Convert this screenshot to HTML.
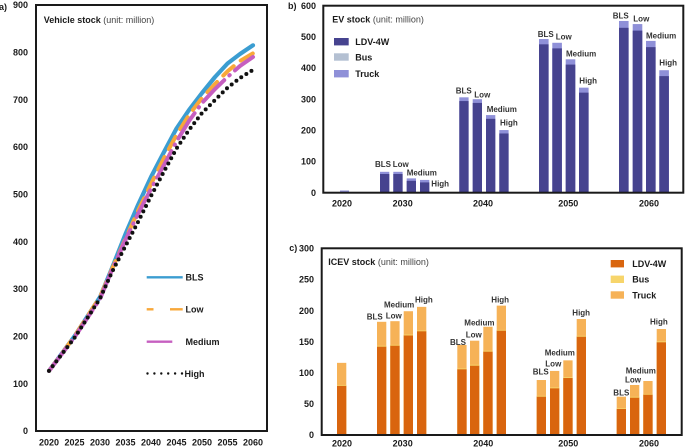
<!DOCTYPE html>
<html><head><meta charset="utf-8"><style>
html,body{margin:0;padding:0;background:#fff;}
svg{display:block;}
text{font-family:"Liberation Sans",Arial,sans-serif;}
.t{font-size:9px;font-weight:bold;fill:#1a1a1a;}
.bl{font-size:8px;font-weight:bold;fill:#333;}
.lg{font-size:9px;font-weight:bold;fill:#1a1a1a;}
</style></head><body>
<svg width="685" height="447" viewBox="0 0 685 447" xmlns="http://www.w3.org/2000/svg">
<rect width="685" height="447" fill="#fff"/>

<!-- ============ Panel a ============ -->
<text class="t" x="-1" y="10">a)</text>
<g class="t" text-anchor="end">
<text x="28" y="434.2">0</text>
<text x="28" y="386.9">100</text>
<text x="28" y="339.5">200</text>
<text x="28" y="292.2">300</text>
<text x="28" y="244.9">400</text>
<text x="28" y="197.6">500</text>
<text x="28" y="150.2">600</text>
<text x="28" y="102.9">700</text>
<text x="28" y="55.6">800</text>
<text x="28" y="8.2">900</text>
</g>
<g class="t" text-anchor="middle">
<text x="49" y="445.3">2020</text>
<text x="74.5" y="445.3">2025</text>
<text x="100" y="445.3">2030</text>
<text x="125.5" y="445.3">2035</text>
<text x="151" y="445.3">2040</text>
<text x="176.5" y="445.3">2045</text>
<text x="202" y="445.3">2050</text>
<text x="227.5" y="445.3">2055</text>
<text x="253" y="445.3">2060</text>
</g>
<text x="43.7" y="23" font-size="9" fill="#1a1a1a"><tspan font-weight="bold">Vehicle stock</tspan><tspan fill="#444"> (unit: million)</tspan></text>

<polyline fill="none" stroke="#3b9dd1" stroke-width="4.2" stroke-linejoin="round" stroke-linecap="round"
 points="49,370.9 74.5,336.3 100,297 112,268 125.5,234 138,205 151,177 164,152 176.5,128.5 189,110 202,93 215,77 227.5,63.5 240,54 253,45.3"/>
<polyline fill="none" stroke="#f8a83a" stroke-width="4" stroke-linecap="round" stroke-dasharray="14 9"
 points="49,370.9 74.5,336.3 100,297 112,269 125.5,239 138,211 151,184 164,158 176.5,135 189,115 202,98 215,84 227.5,71.3 240,61 253,53.3"/>
<polyline fill="none" stroke="#c65fc0" stroke-width="4" stroke-linecap="round" stroke-dasharray="30 7 0.5 7"
 points="49,370.9 74.5,337.3 100,299 112,270 125.5,240 138,214 151,189 164,165 176.5,141.5 189,121 202,103 215,89 227.5,77 240,66 253,57"/>
<polyline fill="none" stroke="#111" stroke-width="4" stroke-linecap="round" stroke-dasharray="0 6"
 points="49,370.9 74.5,337.8 100,298.5 112,272 125.5,246 138,222 151,196 164,171.5 176.5,148.5 189,130 202,113 215,100 227.5,87.7 240,78 253,69.9"/>

<!-- legend a -->
<line x1="146.7" y1="277.3" x2="182.7" y2="277.3" stroke="#3b9dd1" stroke-width="2.4"/>
<text class="lg" x="185.5" y="280.6">BLS</text>
<line x1="146.7" y1="309.3" x2="153.5" y2="309.3" stroke="#f8a83a" stroke-width="2.4"/>
<line x1="170" y1="309.3" x2="182.7" y2="309.3" stroke="#f8a83a" stroke-width="2.4"/>
<text class="lg" x="185.5" y="312.6">Low</text>
<line x1="146.7" y1="341.7" x2="172.3" y2="341.7" stroke="#c65fc0" stroke-width="2.4"/>
<text class="lg" x="185.5" y="345">Medium</text>
<g fill="#111">
<circle cx="147.5" cy="373.5" r="1.2"/><circle cx="154.4" cy="373.5" r="1.2"/><circle cx="161.3" cy="373.5" r="1.2"/>
<circle cx="168.2" cy="373.5" r="1.2"/><circle cx="175.1" cy="373.5" r="1.2"/><circle cx="182" cy="373.5" r="1.2"/>
</g>
<text class="lg" x="184.5" y="376.8">High</text>

<rect x="36" y="5" width="231" height="426" fill="none" stroke="#1a1a1a" stroke-width="2"/>

<!-- ============ Panel b ============ -->
<text class="t" x="288" y="9">b)</text>
<g class="t" text-anchor="end">
<text x="316" y="195.9">0</text>
<text x="316" y="164.7">100</text>
<text x="316" y="133.6">200</text>
<text x="316" y="102.4">300</text>
<text x="316" y="71.2">400</text>
<text x="316" y="40.1">500</text>
<text x="316" y="8.9">600</text>
</g>
<g class="t" text-anchor="middle">
<text x="342" y="206.6">2020</text>
<text x="402.7" y="206.6">2030</text>
<text x="483" y="206.6">2040</text>
<text x="568.3" y="206.6">2050</text>
<text x="649" y="206.6">2060</text>
</g>
<text x="332.3" y="22.6" font-size="9" fill="#1a1a1a"><tspan font-weight="bold">EV stock</tspan><tspan fill="#444"> (unit: million)</tspan></text>
<rect x="334" y="38" width="14.7" height="7.4" fill="#46438f"/>
<text class="lg" x="355.3" y="45">LDV-4W</text>
<rect x="334" y="53.3" width="14.7" height="7.4" fill="#b4c0d2"/>
<text class="lg" x="355.3" y="60.3">Bus</text>
<rect x="334" y="70" width="14.7" height="7.4" fill="#8f90d8"/>
<text class="lg" x="355.3" y="77">Truck</text>

<g transform="translate(0 192.7) scale(1 -0.3117)">
<rect x="340" y="0" width="9" height="7" fill="#8f90d8"/>
<g fill="#8f90d8">
<rect x="380" y="0" width="9.3" height="67"/><rect x="393.3" y="0" width="9.3" height="67"/><rect x="406.7" y="0" width="9.3" height="46"/><rect x="420" y="0" width="9.3" height="41"/>
<rect x="459.3" y="0" width="9.3" height="306"/><rect x="472.7" y="0" width="9.3" height="300"/><rect x="486" y="0" width="9.3" height="249"/><rect x="499.3" y="0" width="9.3" height="201"/>
<rect x="539" y="0" width="9.6" height="493"/><rect x="552.3" y="0" width="9.6" height="481"/><rect x="565.7" y="0" width="9.6" height="428"/><rect x="579" y="0" width="9.6" height="337"/>
<rect x="619" y="0" width="9.6" height="551"/><rect x="632.7" y="0" width="9.6" height="541"/><rect x="646" y="0" width="9.6" height="487"/><rect x="659.3" y="0" width="9.6" height="393"/>
</g>
<g fill="#46438f">
<rect x="380" y="0" width="9.3" height="60"/><rect x="393.3" y="0" width="9.3" height="60"/><rect x="406.7" y="0" width="9.3" height="38"/><rect x="420" y="0" width="9.3" height="33"/>
<rect x="459.3" y="0" width="9.3" height="294"/><rect x="472.7" y="0" width="9.3" height="288"/><rect x="486" y="0" width="9.3" height="237"/><rect x="499.3" y="0" width="9.3" height="190"/>
<rect x="539" y="0" width="9.6" height="476"/><rect x="552.3" y="0" width="9.6" height="463"/><rect x="565.7" y="0" width="9.6" height="411"/><rect x="579" y="0" width="9.6" height="321"/>
<rect x="619" y="0" width="9.6" height="529"/><rect x="632.7" y="0" width="9.6" height="520"/><rect x="646" y="0" width="9.6" height="467"/><rect x="659.3" y="0" width="9.6" height="374"/>
</g>
</g>
<g class="bl">
<text x="375" y="167">BLS</text><text x="392.7" y="167">Low</text><text x="406.7" y="175.3">Medium</text><text x="431.3" y="186.3">High</text>
<text x="455.7" y="93.7">BLS</text><text x="474.3" y="97.3">Low</text><text x="486.7" y="112">Medium</text><text x="500" y="125.3">High</text>
<text x="537.7" y="37">BLS</text><text x="555.7" y="39.7">Low</text><text x="566" y="56.3">Medium</text><text x="579.3" y="83.3">High</text>
<text x="612.7" y="18.7">BLS</text><text x="633.3" y="21.3">Low</text><text x="646" y="38.3">Medium</text><text x="659.3" y="65.7">High</text>
</g>
<rect x="323.3" y="5.7" width="360" height="187" fill="none" stroke="#1a1a1a" stroke-width="2"/>

<!-- ============ Panel c ============ -->
<text class="t" x="289.3" y="251">c)</text>
<g class="t" text-anchor="end">
<text x="314" y="438.2">0</text>
<text x="314" y="407.1">50</text>
<text x="314" y="376">100</text>
<text x="314" y="344.9">150</text>
<text x="314" y="313.8">200</text>
<text x="314" y="282.7">250</text>
<text x="314" y="251.6">300</text>
</g>
<g class="t" text-anchor="middle">
<text x="342" y="446.5">2020</text>
<text x="402.7" y="446.5">2030</text>
<text x="483.3" y="446.5">2040</text>
<text x="568.3" y="446.5">2050</text>
<text x="649" y="446.5">2060</text>
</g>
<text x="328.3" y="264.8" font-size="9" fill="#1a1a1a"><tspan font-weight="bold">ICEV stock</tspan><tspan fill="#444"> (unit: million)</tspan></text>
<rect x="610.7" y="260" width="13.3" height="7.4" fill="#d9650e"/>
<text class="lg" x="632.3" y="267">LDV-4W</text>
<rect x="610.7" y="275.6" width="13.3" height="7.4" fill="#f7d56b"/>
<text class="lg" x="632.3" y="282.6">Bus</text>
<rect x="610.7" y="291.3" width="13.3" height="7.4" fill="#f6b257"/>
<text class="lg" x="632.3" y="298.3">Truck</text>

<g transform="translate(0 435) scale(1 -0.622)">
<g fill="#f6b257">
<rect x="337" y="0" width="9.3" height="116"/>
<rect x="377" y="0" width="9.3" height="182"/><rect x="390.3" y="0" width="9.3" height="183"/><rect x="403.7" y="0" width="9.3" height="199"/><rect x="417" y="0" width="9.3" height="206"/>
<rect x="457.3" y="0" width="9.3" height="144.7"/><rect x="470" y="0" width="9.3" height="151.6"/><rect x="483.3" y="0" width="9.3" height="174"/><rect x="496.7" y="0" width="9.3" height="208"/>
<rect x="536.7" y="0" width="9.3" height="88.4"/><rect x="550" y="0" width="9.3" height="103"/><rect x="563.3" y="0" width="9.3" height="120"/><rect x="576.7" y="0" width="9.3" height="186.5"/>
<rect x="616.7" y="0" width="9.3" height="61.6"/><rect x="630" y="0" width="9.3" height="80.4"/><rect x="643.3" y="0" width="9.3" height="86.8"/><rect x="656.7" y="0" width="9.3" height="170.4"/>
</g>
<g fill="#f7d56b">
<rect x="337" y="0" width="9.3" height="80.5"/>
<rect x="377" y="0" width="9.3" height="143.5"/><rect x="390.3" y="0" width="9.3" height="145"/><rect x="403.7" y="0" width="9.3" height="161.5"/><rect x="417" y="0" width="9.3" height="168"/>
<rect x="457.3" y="0" width="9.3" height="107"/><rect x="470" y="0" width="9.3" height="113"/><rect x="483.3" y="0" width="9.3" height="135.5"/><rect x="496.7" y="0" width="9.3" height="169"/>
<rect x="536.7" y="0" width="9.3" height="63"/><rect x="550" y="0" width="9.3" height="76.5"/><rect x="563.3" y="0" width="9.3" height="93"/><rect x="576.7" y="0" width="9.3" height="159.5"/>
<rect x="616.7" y="0" width="9.3" height="43"/><rect x="630" y="0" width="9.3" height="61.5"/><rect x="643.3" y="0" width="9.3" height="66"/><rect x="656.7" y="0" width="9.3" height="150.5"/>
</g>
<g fill="#d9650e">
<rect x="337" y="0" width="9.3" height="79"/>
<rect x="377" y="0" width="9.3" height="142"/><rect x="390.3" y="0" width="9.3" height="143.6"/><rect x="403.7" y="0" width="9.3" height="160"/><rect x="417" y="0" width="9.3" height="166.7"/>
<rect x="457.3" y="0" width="9.3" height="105.6"/><rect x="470" y="0" width="9.3" height="111.4"/><rect x="483.3" y="0" width="9.3" height="134"/><rect x="496.7" y="0" width="9.3" height="167.7"/>
<rect x="536.7" y="0" width="9.3" height="61.6"/><rect x="550" y="0" width="9.3" height="75"/><rect x="563.3" y="0" width="9.3" height="91.6"/><rect x="576.7" y="0" width="9.3" height="158"/>
<rect x="616.7" y="0" width="9.3" height="41.8"/><rect x="630" y="0" width="9.3" height="60"/><rect x="643.3" y="0" width="9.3" height="64.8"/><rect x="656.7" y="0" width="9.3" height="149"/>
</g>
</g>
<g class="bl">
<text x="366.7" y="319.7">BLS</text><text x="385.7" y="318.3">Low</text><text x="384" y="307.3">Medium</text><text x="415" y="302.3">High</text>
<text x="450" y="345">BLS</text><text x="465.7" y="337.7">Low</text><text x="464.3" y="325.3">Medium</text><text x="491.3" y="302.3">High</text>
<text x="532.7" y="374.7">BLS</text><text x="545.3" y="366.7">Low</text><text x="544.7" y="355.3">Medium</text><text x="572.3" y="315.3">High</text>
<text x="613.3" y="395.3">BLS</text><text x="625" y="382.3">Low</text><text x="625.7" y="373.3">Medium</text><text x="650" y="324.7">High</text>
</g>
<rect x="321.7" y="248.3" width="360" height="186.7" fill="none" stroke="#1a1a1a" stroke-width="2"/>
</svg>
</body></html>
